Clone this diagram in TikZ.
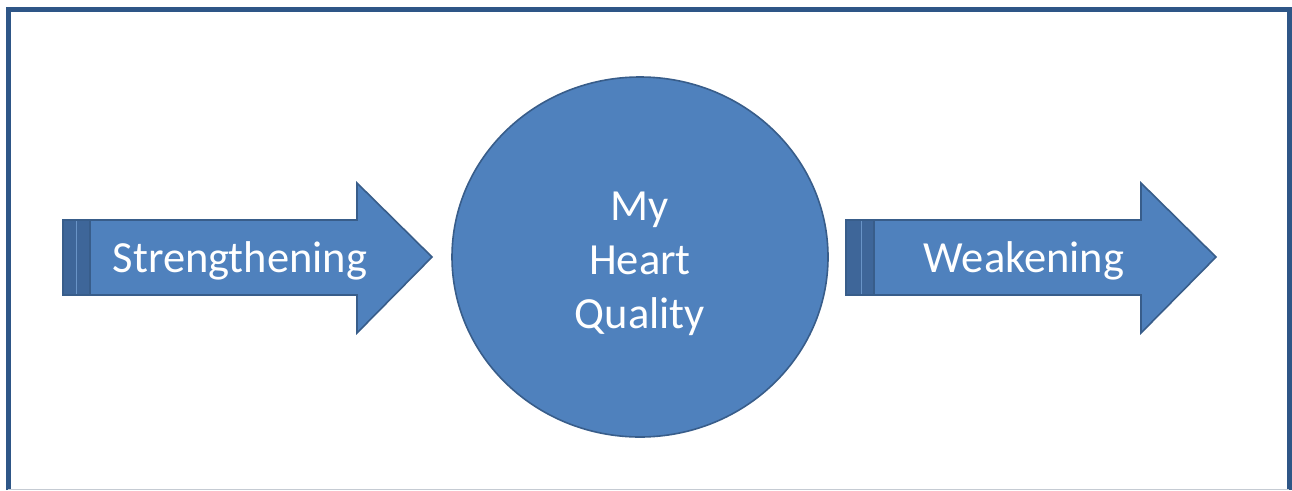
\documentclass[tikz,border=0pt]{standalone}
\usepackage{fontspec}
\setmainfont{Carlito}
\definecolor{shapefill}{HTML}{4F81BD}
\definecolor{shapeline}{HTML}{385D8A}
\definecolor{stripefill}{HTML}{3E6699}
\definecolor{framecol}{HTML}{2E5687}
\definecolor{edgegray}{HTML}{C5CBD3}
\begin{document}
\begin{tikzpicture}[x=1pt,y=-1pt,
  shapebody/.style={fill=shapefill,draw=shapeline,line width=1.6pt,line join=miter},
  stripebox/.style={fill=stripefill,draw=shapeline,line width=1.2pt},
  gapline/.style={draw=shapefill!85!white,line width=1.6pt},
  label/.style={text=white,font=\fontsize{44.5}{54}\selectfont,align=center,inner sep=0pt}]
  \useasboundingbox (0,0) rectangle (1292,490);
  \fill[white] (0,0) rectangle (1292,490);

  % outer frame, cut off at the bottom
  \draw[framecol,line width=5pt] (8,490) -- (8,9) -- (1289,9) -- (1289,490);
  \draw[edgegray,line width=1.5pt] (8,489.3) -- (1289,489.3);

  % left striped arrow
  \draw[shapebody] (90,220) -- (357,220) -- (357,183) -- (432,257)
    -- (357,333) -- (357,295) -- (90,295) -- cycle;
  \draw[stripebox] (63,220) rectangle (90,295);
  \draw[gapline] (76.5,221) -- (76.5,294);
  \node[label] (strong) at (240,261) {Strengthening};

  % central circle
  \draw[shapebody] (640,257) ellipse [x radius=188, y radius=180];
  \node[label] (heart) at (640,264) {My\\Heart\\Quality};

  % right striped arrow
  \draw[shapebody] (874,220) -- (1141,220) -- (1141,183) -- (1216,257)
    -- (1141,333) -- (1141,295) -- (874,295) -- cycle;
  \draw[stripebox] (846,220) rectangle (874,295);
  \draw[gapline] (861.5,221) -- (861.5,294);
  \node[label] (weak) at (1024,261) {Weakening};
\end{tikzpicture}
\end{document}
